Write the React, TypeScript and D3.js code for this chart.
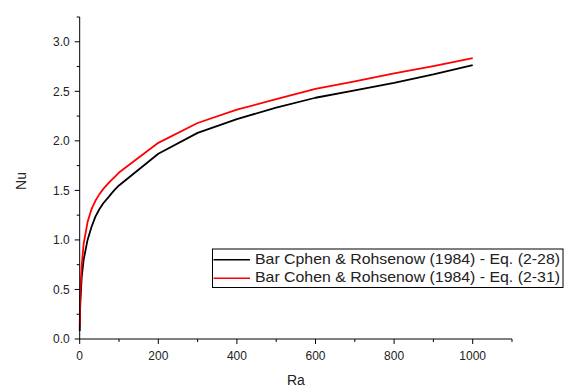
import React from "react";
import * as d3 from "d3";

// Rayleigh number sample points
const ra = [0.1, 1, 2, 5, 10, 20, 30, 40, 50, 60, 75, 80, 90, 100, 200, 300, 400, 500, 600, 700, 800, 900, 1000];
// Nusselt number, Eq. (2-28)
const nuEq228 = [0.08, 0.3, 0.4, 0.62, 0.8, 1.0, 1.13, 1.235, 1.31, 1.37, 1.44, 1.465, 1.51, 1.55, 1.87, 2.08, 2.22, 2.335, 2.435, 2.51, 2.585, 2.67, 2.765];
// Nusselt number, Eq. (2-31)
const nuEq231 = [0.13, 0.38, 0.5, 0.74, 0.96, 1.18, 1.31, 1.395, 1.46, 1.515, 1.58, 1.6, 1.64, 1.68, 1.98, 2.18, 2.315, 2.42, 2.525, 2.6, 2.68, 2.755, 2.835];

const seriesNames = [
  "Bar Cphen & Rohsenow (1984) - Eq. (2-28)",
  "Bar Cohen & Rohsenow (1984) - Eq. (2-31)",
];
const seriesColors = ["#000000", "#ff0000"];

const xMajor = [0, 200, 400, 600, 800, 1000];
const xMinor = [100, 300, 500, 700, 900, 1100];
const yMajor = [0, 0.5, 1.0, 1.5, 2.0, 2.5, 3.0];
const yMinor = [0.25, 0.75, 1.25, 1.75, 2.25, 2.75, 3.25];

const W = 565;
const H = 388;
const left = 79.7;
const right = 512;
const top = 17;
const bottom = 339;

export default function App() {
  const x = d3.scaleLinear().domain([0, 1100]).range([left, right]);
  const y = d3.scaleLinear().domain([0, 3.25]).range([bottom, top]);
  const line = d3
    .line<[number, number]>()
    .x((d) => x(d[0]))
    .y((d) => y(d[1]));

  const series = [nuEq228, nuEq231].map((vals) =>
    ra.map((r, i) => [r, vals[i]] as [number, number])
  );

  const font = "'Liberation Sans', Arial, sans-serif";
  const textColor = "#222";

  return (
    <svg
      width={W}
      height={H}
      style={{ position: "absolute", left: 0, top: 0, background: "#fff" }}
      fontFamily={font}
    >
      {/* curves */}
      {series.map((s, i) => (
        <path
          key={i}
          d={line(s) || ""}
          fill="none"
          stroke={seriesColors[i]}
          strokeWidth={1.8}
          strokeLinejoin="round"
        />
      ))}

      {/* x axis */}
      <line x1={left} x2={right} y1={bottom} y2={bottom} stroke="#000" strokeWidth={1} />
      {xMajor.map((v) => (
        <g key={"xM" + v}>
          <line x1={x(v)} x2={x(v)} y1={bottom} y2={bottom + 5} stroke="#000" />
          <text x={x(v)} y={360} textAnchor="middle" fontSize={12} fill={textColor}>
            {v}
          </text>
        </g>
      ))}
      {xMinor.map((v) => (
        <line key={"xm" + v} x1={x(v)} x2={x(v)} y1={bottom} y2={bottom + 3} stroke="#000" />
      ))}
      <text x={(left + right) / 2} y={385} textAnchor="middle" fontSize={14} fill={textColor}>
        Ra
      </text>

      {/* y axis */}
      <line x1={left} x2={left} y1={top} y2={bottom} stroke="#000" strokeWidth={1} />
      {yMajor.map((v) => (
        <g key={"yM" + v}>
          <line x1={left - 5} x2={left} y1={y(v)} y2={y(v)} stroke="#000" />
          <text x={left - 10} y={y(v) + 4.3} textAnchor="end" fontSize={12} fill={textColor}>
            {v.toFixed(1)}
          </text>
        </g>
      ))}
      {yMinor.map((v) => (
        <line key={"ym" + v} x1={left - 3} x2={left} y1={y(v)} y2={y(v)} stroke="#000" />
      ))}
      <text
        transform={`translate(26,181) rotate(-90)`}
        textAnchor="middle"
        fontSize={14}
        fill={textColor}
      >
        Nu
      </text>

      {/* legend */}
      <rect x={212.5} y={249} width={350.5} height={38.5} fill="#fff" stroke="#000" strokeWidth={1} />
      {seriesNames.map((name, i) => (
        <g key={name}>
          <line
            x1={213.5}
            x2={250}
            y1={259.7 + i * 18.6}
            y2={259.7 + i * 18.6}
            stroke={seriesColors[i]}
            strokeWidth={1.5}
          />
          <text
            x={255}
            y={264.3 + i * 17.6}
            fontSize={14.5}
            fill={textColor}
            textLength={305}
            lengthAdjust="spacingAndGlyphs"
          >
            {name}
          </text>
        </g>
      ))}
    </svg>
  );
}
